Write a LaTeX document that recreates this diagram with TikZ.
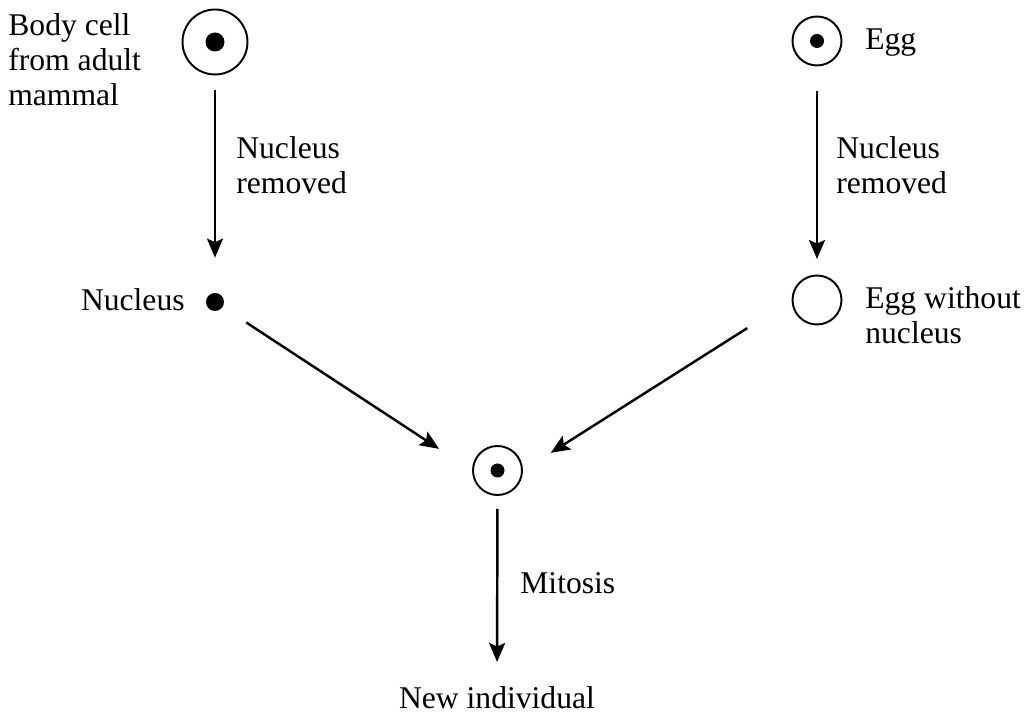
\documentclass[tikz,border=0pt]{standalone}
\usepackage{fontspec}
\setmainfont{Liberation Serif}
\usetikzlibrary{arrows.meta}
\tikzset{
	cell/.style={draw, circle, line width=1.1pt, inner sep=0pt},
	lbl/.style={font=\fontsize{18}{20}\selectfont, align=left, inner sep=0pt, anchor=west},
	arr/.style={line width=1.4pt, -{Stealth[length=0.38cm, width=0.32cm, inset=0.07cm]}}
}

\begin{document}
\begin{tikzpicture}[x=0.02cm, y=-0.02cm]
		%%%%% START %%%%%
		\useasboundingbox (0, 0) rectangle (1025, 715);
		
		\node[cell, minimum size=1.3cm] (body) at (215, 42) {};
		\fill (body) circle[radius=0.19cm];
		\node[lbl] (bodytxt) at (8, 60) {Body cell\\from adult\\mammal};
		
		\node[cell, minimum size=0.98cm] (egg) at (817, 41) {};
		\fill (egg) circle[radius=0.14cm];
		\node[lbl] (eggtxt) at (865, 43) {Egg};
		
		\node[circle, fill, minimum size=0.36cm, inner sep=0pt] (nucleus) at (215, 302) {};
		\node[lbl, anchor=east] (nucltxt) at (185, 300) {Nucleus};
		
		\node[cell, minimum size=0.98cm] (eggempty) at (817, 300) {};
		\node[lbl] (emptytxt) at (865, 315) {Egg without\\nucleus};
		
		\node[cell, minimum size=0.98cm] (zygote) at (497.5, 470.5) {};
		\fill (zygote) circle[radius=0.14cm];
		
		\node[lbl, anchor=center] (newind) at (497, 698) {New individual};
		
		\draw[arr, shorten <=0.29cm, shorten >=0.7cm] (body) -- (nucleus);
		\node[lbl] (remleft) at (236, 165) {Nucleus\\removed};
		
		\draw[arr, shorten <=0.49cm, shorten >=0.31cm] (egg) -- (eggempty);
		\node[lbl] (remright) at (836, 165) {Nucleus\\removed};
		
		\draw[arr, shorten <=0.56cm, shorten >=0.79cm] (nucleus) -- (zygote.west);
		\draw[arr, shorten <=1.05cm, shorten >=0.66cm] (eggempty.west) -- (zygote.east);
		
		\draw[arr, shorten <=0.26cm, shorten >=0.72cm] (zygote) -- (newind.center);
		\node[lbl] (mitosis) at (520, 583) {Mitosis};
		%%%%% END %%%%%
\end{tikzpicture}
\end{document}
